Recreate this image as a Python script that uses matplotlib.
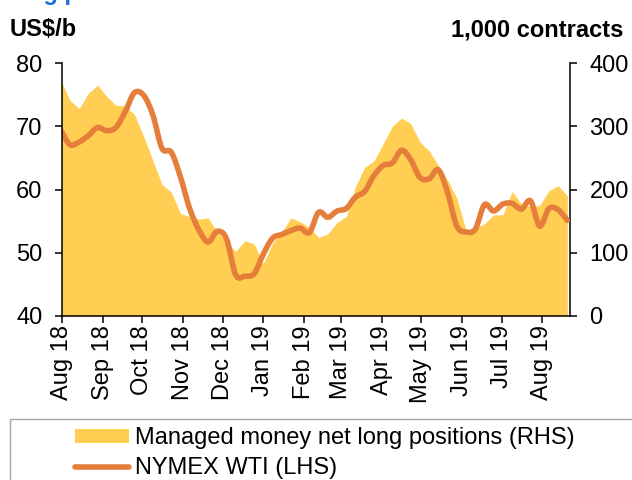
import numpy as np
import pandas as pd
import matplotlib
matplotlib.use("Agg")
import matplotlib.pyplot as plt
import matplotlib.dates as mdates
from matplotlib.patches import Patch, Rectangle, PathPatch
from matplotlib.lines import Line2D
from matplotlib.path import Path

plt.rcParams['font.family'] = ['Liberation Sans', 'DejaVu Sans']

# weekly observations, Aug 2018 - Aug 2019
weeks = pd.date_range('2018-07-31', periods=56, freq='7D')

# managed money net long positions, 1,000 contracts (RHS)
net_long = [373, 341, 328, 352, 365, 347, 333, 332, 319, 284,
            246, 208, 196, 162, 157, 153, 155, 133, 117, 102,
            119, 114, 83, 115, 133, 155, 149, 140, 124, 130,
            148, 157, 205, 235, 245, 272, 300, 313, 304, 275,
            261, 238, 215, 186, 136, 139, 146, 160, 160, 197,
            177, 173, 175, 198, 206, 190]

# NYMEX WTI, US$/b (LHS)
wti = [69.4, 67.1, 67.5, 68.5, 69.8, 69.3, 69.8, 72.3, 75.3, 74.9,
       71.8, 66.5, 65.9, 62.0, 57.0, 53.6, 51.7, 53.4, 52.2, 46.5,
       46.3, 46.7, 49.8, 52.3, 52.9, 53.5, 53.9, 53.2, 56.4, 55.6,
       56.6, 57.0, 58.8, 59.7, 62.2, 63.8, 64.2, 66.2, 64.7, 61.9,
       61.7, 63.1, 59.5, 54.2, 53.3, 53.7, 57.6, 56.6, 57.7, 57.8,
       56.9, 58.2, 54.2, 57.0, 56.8, 55.1]

area_col = '#FFCE52'
line_col = '#E57E3B'
FS = 17


def smooth_path(x, y):
    # Excel-style smoothed line: bezier segments through the points
    p = np.column_stack([x, y])
    verts = [p[0]]
    codes = [Path.MOVETO]
    n = len(p)
    for i in range(n - 1):
        p0 = p[i - 1] if i > 0 else p[i]
        p3 = p[i + 2] if i + 2 < n else p[i + 1]
        c1 = p[i] + (p[i + 1] - p0) / 6
        c2 = p[i + 1] - (p3 - p[i]) / 6
        verts += [c1, c2, p[i + 1]]
        codes += [Path.CURVE4] * 3
    return Path(verts, codes)


fig = plt.figure(figsize=(6.32, 4.8), dpi=100)
ax_a = fig.add_axes([62 / 632, 1 - 316 / 480, (570 - 62) / 632, (316 - 63) / 480])
ax_a.fill_between(weeks, net_long, 0, color=area_col, lw=0)
ax_a.set_ylim(0, 400)
ax_a.set_yticks([0, 100, 200, 300, 400])

ax_l = ax_a.twinx()
ax_l.add_patch(PathPatch(smooth_path(mdates.date2num(weeks), wti), fill=False,
                         edgecolor=line_col, lw=4.0, capstyle='round', joinstyle='round'))
ax_l.set_ylim(40, 80)
ax_l.set_yticks([40, 50, 60, 70, 80])
ax_l.yaxis.tick_left()
ax_a.yaxis.tick_right()

ax_a.set_xlim(pd.Timestamp('2018-08-01'), pd.Timestamp('2019-08-22'))
ax_a.xaxis.set_major_locator(mdates.MonthLocator())
ax_a.xaxis.set_major_formatter(mdates.DateFormatter('%b %y'))

for ax in (ax_a, ax_l):
    for s in ax.spines.values():
        s.set_visible(False)
        s.set_linewidth(1.1)
ax_a.spines['bottom'].set_visible(True)
ax_a.spines['right'].set_visible(True)
ax_l.spines['left'].set_visible(True)
ax_a.tick_params(axis='x', direction='out', length=5, width=1.1, labelsize=FS, rotation=90, pad=1.5)
ax_a.tick_params(axis='y', direction='out', length=5, width=1.1, labelsize=FS, pad=9)
ax_l.tick_params(axis='y', direction='out', length=5, width=1.1, labelsize=FS, pad=9)

fig.text(10 / 632, 1 - 30 / 480, 'US$/b', fontsize=FS, fontweight='bold', va='center', ha='left')
fig.text(623 / 632, 1 - 30 / 480, '1,000 contracts', fontsize=FS, fontweight='bold', va='center', ha='right')
fig.text(0, 1.0, 'Long positions', fontsize=FS, fontweight='bold', color='#1C6FD6', va='baseline', ha='left')

# legend box runs off the bottom and right of the picture
fig.patches.append(Rectangle((10 / 632, -0.05), 1.0, 1 - 419 / 480 + 0.05, transform=fig.transFigure,
                             fill=False, edgecolor='#A6A6A6', lw=1.0))
handles = [Patch(facecolor=area_col, edgecolor='none'),
           Line2D([], [], color=line_col, lw=4.0, solid_capstyle='round')]
fig.legend(handles, ['Managed money net long positions (RHS)', 'NYMEX WTI (LHS)'],
           loc='upper left', bbox_to_anchor=(75 / 632, 1 - 427 / 480), frameon=False,
           fontsize=FS, borderpad=0, borderaxespad=0, handlelength=2.3, handleheight=0.55,
           handletextpad=0.25, labelspacing=0.35)

fig.savefig('out.png', dpi=100)
